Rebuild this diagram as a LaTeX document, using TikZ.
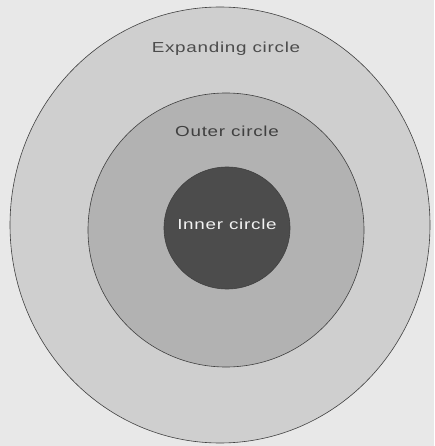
\documentclass[tikz,border=0pt]{standalone}
\usepackage{fontspec}
\newfontfamily\lbl[FakeStretch=1.3,LetterSpace=5]{Liberation Sans}
\begin{document}
\begin{tikzpicture}[x=1pt,y=-1pt,
  ring/.style={draw=black!75,line width=0.6pt},
  lab/.style={font=\lbl\fontsize{14.5}{16}\selectfont,inner sep=0pt}]
\fill[black!9] (0,0) rectangle (434,446);
\useasboundingbox (0,0) rectangle (434,446);
\draw[ring,fill=black!19] (220,225) ellipse [x radius=210,y radius=218];
\draw[ring,fill=black!30] (226,230) ellipse [x radius=138,y radius=137];
\draw[ring,fill=black!70] (227,228) ellipse [x radius=63,y radius=61];
\node[lab,text=black!70] (exp) at (226,49) {Expanding circle};
\node[lab,text=black!75] (out) at (227,131) {Outer circle};
\node[lab,text=black!5] (inn) at (227,224) {Inner circle};
\end{tikzpicture}
\end{document}
